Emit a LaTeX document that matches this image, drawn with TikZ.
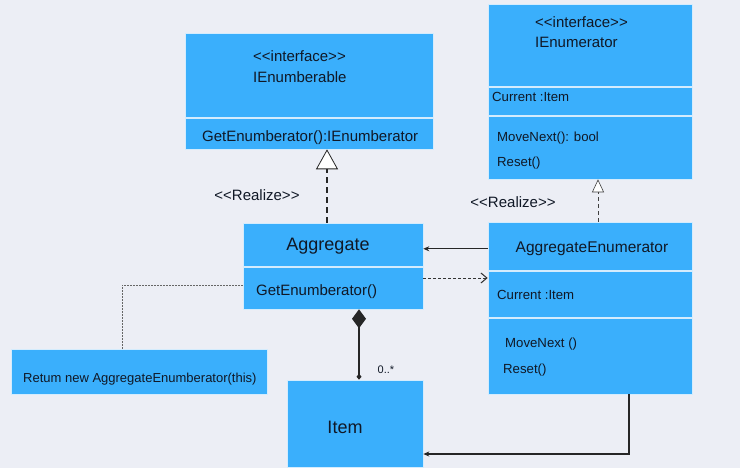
\documentclass[tikz,border=0pt]{standalone}
\usepackage{fontspec}
\setmainfont{Liberation Sans}
\usetikzlibrary{arrows.meta}
\definecolor{bg}{HTML}{ECEEF5}
\definecolor{boxc}{HTML}{3AAFFC}
\definecolor{sepc}{HTML}{D4ECFD}
\definecolor{txt}{HTML}{101826}
\newcommand{\lt}{{<}}
\newcommand{\gt}{{>}}
\tikzset{
  umlbox/.style={fill=boxc, draw=sepc, line width=0.6pt, inner sep=0pt, rectangle},
  sepline/.style={draw=sepc, line width=2pt},
  lbl/.style={inner sep=0pt, text=txt, font=\fontsize{15}{17}\selectfont},
  small/.style={inner sep=0pt, text=txt, font=\fontsize{13.2}{15}\selectfont},
  big/.style={inner sep=0pt, text=txt, font=\fontsize{18}{20}\selectfont},
  conn/.style={draw=black!85, line width=1.1pt},
}
\begin{document}
\begin{tikzpicture}[x=1pt,y=-1pt]
\path[use as bounding box, fill=bg] (0,0) rectangle (740,468);

% boxes
\node[umlbox, minimum width=248pt, minimum height=116pt] (ienb) at (309,91) {};
\node[umlbox, minimum width=204pt, minimum height=175pt] (ienr) at (590,91.5) {};
\node[umlbox, minimum width=180pt, minimum height=86pt] (agg) at (333,266) {};
\node[umlbox, minimum width=204pt, minimum height=172pt] (ae) at (590,308) {};
\node[umlbox, minimum width=256pt, minimum height=45pt] (ret) at (139,371.5) {};
\node[umlbox, minimum width=136pt, minimum height=87pt] (item) at (355,423.5) {};

% separators
\draw[sepline] (ienb.west |- 0,118) -- (ienb.east |- 0,118);
\draw[sepline] (ienr.west |- 0,87) -- (ienr.east |- 0,87);
\draw[sepline] (ienr.west |- 0,116) -- (ienr.east |- 0,116);
\draw[sepline] (agg.west |- 0,267) -- (agg.east |- 0,267);
\draw[sepline] (ae.west |- 0,271) -- (ae.east |- 0,271);
\draw[sepline] (ae.west |- 0,318) -- (ae.east |- 0,318);

% texts IEnumberable
\node[lbl, anchor=base west] (t1) at (253,62) {\lt\lt interface\gt\gt};
\node[lbl, anchor=base west] (t2) at (253,83) {IEnumberable};
\node[lbl, anchor=base west] (t3) at (202,142) {GetEnumberator():IEnumberator};
% IEnumerator
\node[lbl, anchor=base west] (t4) at (535,28) {\lt\lt interface\gt\gt};
\node[lbl, anchor=base west] (t5) at (535,48) {IEnumerator};
\node[small, anchor=base west] (t6) at (492,102) {Current :Item};
\node[small, anchor=base west] (t7) at (497,142) {MoveNext(): bool};
\node[small, anchor=base west] (t8) at (497,167) {Reset()};
% Aggregate
\node[big, anchor=base] (t9) at (328,250.5) {Aggregate};
\node[lbl, anchor=base west] (t10) at (256,295) {GetEnumberator()};
% AggregateEnumerator
\node[lbl, anchor=base, font=\fontsize{15.5}{17}\selectfont] (aetitle) at (592,252.5) {AggregateEnumerator};
\node[small, anchor=base west] (t12) at (497,300) {Current :Item};
\node[small, anchor=base west] (t13) at (505,347) {MoveNext ()};
\node[small, anchor=base west] (t14) at (503,373) {Reset()};
% note
\node[small, font=\fontsize{13}{15}\selectfont, anchor=base west] (t15) at (23,382) {Retum new AggregateEnumberator(this)};
% item
\node[big, anchor=base] (t16) at (345,433.5) {Item};

% labels
\node[lbl, anchor=base] (r1) at (257,201) {\lt\lt Realize\gt\gt};
\node[lbl, anchor=base] (r2) at (513,208) {\lt\lt Realize\gt\gt};
\node[inner sep=0pt, text=txt, font=\fontsize{11}{12}\selectfont, anchor=base] (mult) at (386,373) {0..*};

% realizations
\draw[draw=black!85, line width=1.8pt, dash pattern=on 6pt off 4pt,
  -{Triangle[width=22pt,length=20pt,fill=white,line width=0.8pt]}]
  ([xshift=-6pt]agg.north) -- ([xshift=-6pt]agg.north |- ienb.south);
\draw[draw=black!75, line width=0.9pt, dash pattern=on 4pt off 3pt,
  -{Triangle[width=12pt,length=13pt,fill=white,line width=0.6pt]}]
  ([xshift=8pt]ae.north) -- ([xshift=8pt]ae.north |- ienr.south);

% association AE -> Aggregate
\draw[conn, -{Stealth[length=6pt,width=5pt]}] (ae.west |- aetitle) -- (agg.east |- aetitle);
% dependency Aggregate -> AE
\coordinate (dep) at (0,278);
\draw[draw=black!80, line width=0.9pt, dash pattern=on 3pt off 2pt,
  -{Straight Barb[length=6pt,width=10pt,line width=1pt]}]
  (agg.east |- dep) -- (ae.west |- dep);
% note link
\coordinate (nk) at (122,285);
\draw[draw=black!60, line width=0.8pt, dash pattern=on 2pt off 1pt]
  (agg.west |- nk) -- (nk) -- (nk |- ret.north);
% composition
\coordinate (cx) at (359,0);
\draw[conn, line width=1.3pt, {Diamond[width=14pt,length=19pt]}-{Diamond[width=5pt,length=6pt]}]
  (cx |- agg.south) -- (cx |- item.north);
% AE -> Item
\coordinate (bend) at (629,454);
\draw[conn, -{Stealth[length=6pt,width=5pt]}]
  (bend |- ae.south) -- (bend) -- (item.east |- bend);
\end{tikzpicture}
\end{document}
